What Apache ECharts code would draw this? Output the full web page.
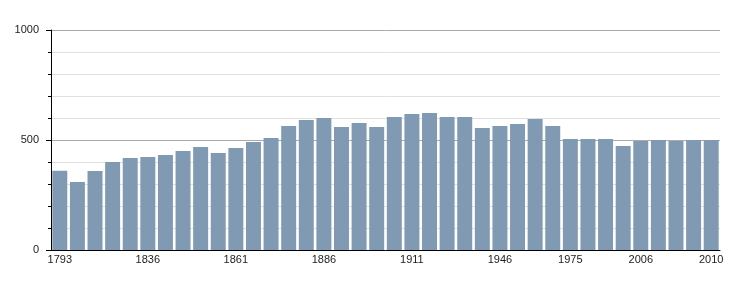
<!DOCTYPE html>
<html>
<head>
<meta charset="utf-8">
<script src="https://cdn.jsdelivr.net/npm/echarts@6/dist/echarts.min.js"></script>
<style>html,body{margin:0;padding:0;background:#fff;}#c{width:750px;height:300px;}</style>
</head>
<body>
<div id="c"></div>
<script>
var years = ['1793','1800','1806','1821','1831','1836','1841','1846','1851','1856','1861','1866','1872','1876','1881','1886','1891','1896','1901','1906','1911','1921','1926','1931','1936','1946','1954','1962','1968','1975','1982','1990','1999','2006','2007','2008','2009','2010'];
var population = [360,309,359,400,418,423,432,450,468,441,464,491,509,564,591,600,559,577,559,605,618,623,605,605,555,564,573,595,564,505,505,505,473,495,500,495,500,500];
var labelIndices = [0,5,10,15,20,25,29,33,37];
var yTicks = [0,500,1000];

var chart = echarts.init(document.getElementById('c'), null, {renderer:'canvas'});
chart.setOption({
  animation: false,
  grid: {left: 51, right: 30, top: 30, bottom: 50},
  xAxis: {
    type: 'category',
    data: years,
    boundaryGap: true,
    axisLine: {show: true, lineStyle: {color: '#000', width: 1}},
    axisTick: {show: false},
    axisLabel: {
      interval: function(i){ return labelIndices.indexOf(i) >= 0; },
      color: '#222', fontSize: 11, fontFamily: 'Liberation Sans, Arial, sans-serif', margin: 4
    }
  },
  yAxis: {
    type: 'value',
    min: yTicks[0], max: yTicks[yTicks.length-1], interval: 500,
    axisLine: {show: true, lineStyle: {color: '#000', width: 1}},
    axisTick: {show: true, length: 5, lineStyle: {color: '#000'}},
    minorTick: {show: true, splitNumber: 5, length: 3, lineStyle: {color: '#000'}},
    splitLine: {show: true, lineStyle: {color: '#aaaaaa', width: 1}},
    minorSplitLine: {show: true, lineStyle: {color: '#e0e0e0', width: 1}},
    axisLabel: {
      formatter: function(v){ return String(v); },
      color: '#222', fontSize: 11, fontFamily: 'Liberation Sans, Arial, sans-serif', margin: 12
    }
  },
  series: [{
    type: 'bar',
    data: population,
    barCategoryGap: '15%',
    itemStyle: {color: '#7f9ab2'}
  }]
});
</script>
</body>
</html>
